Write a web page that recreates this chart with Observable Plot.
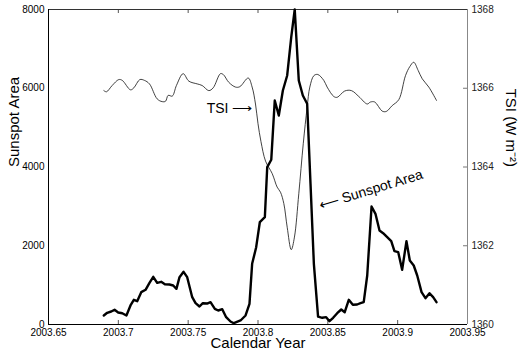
<!DOCTYPE html>
<html>
<head>
<meta charset="utf-8">
<script src="https://cdn.jsdelivr.net/npm/d3@7"></script>
<script src="https://cdn.jsdelivr.net/npm/@observablehq/plot@0.6"></script>
<style>
  html, body { margin: 0; padding: 0; background: #fff; }
</style>
</head>
<body>
<div id="chart"></div>
<script>
// ---- data ----
const sunYears = [2003.6896,2003.6920,2003.6949,2003.6973,2003.6999,2003.7028,2003.7058,2003.7087,2003.7111,2003.7135,
  2003.7164,2003.7195,2003.7223,2003.7250,2003.7278,2003.7307,2003.7333,2003.7366,2003.7393,2003.7416,
  2003.7438,2003.7467,2003.7493,2003.7529,2003.7553,2003.7581,2003.7605,2003.7636,2003.7660,2003.7691,
  2003.7715,2003.7744,2003.7772,2003.7803,2003.7827,2003.7875,2003.7911,2003.7939,2003.7958,2003.7987,
  2003.8013,2003.8049,2003.8066,2003.8095,2003.8120,2003.8149,2003.8178,2003.8209,2003.8238,2003.8263,
  2003.8292,2003.8321,2003.8352,2003.8376,2003.8400,2003.8430,2003.8460,2003.8488,2003.8512,2003.8538,
  2003.8567,2003.8596,2003.8621,2003.8650,2003.8679,2003.8710,2003.8734,2003.8757,2003.8782,2003.8813,
  2003.8841,2003.8870,2003.8896,2003.8925,2003.8954,2003.8977,2003.9004,2003.9032,2003.9063,2003.9087,
  2003.9115,2003.9140,2003.9171,2003.9199,2003.9228,2003.9254,2003.9278];
const sunArea = [229,297,330,373,305,287,229,483,627,592,
  821,881,1059,1211,1059,1084,1024,1016,990,906,
  1202,1338,1202,694,541,457,541,533,566,398,
  356,389,186,76,33,102,229,525,1541,1964,
  2598,2725,3995,4183,5689,5308,5943,6324,7297,8000,
  6197,5816,5605,3573,1541,200,170,186,85,170,
  287,381,313,627,500,508,541,567,1244,2997,
  2811,2387,2319,2218,2116,1862,1837,1388,2116,1625,
  1498,1244,821,668,795,694,567];

const tsiYears = [2003.6896,2003.6915,2003.6956,2003.7003,2003.7028,2003.7087,2003.7111,2003.7154,2003.7187,2003.7223,
  2003.7278,2003.7314,2003.7338,2003.7357,2003.7386,2003.7416,2003.7464,2003.7505,2003.7565,2003.7600,
  2003.7648,2003.7679,2003.7731,2003.7751,2003.7791,2003.7839,2003.7870,2003.7930,2003.7958,2003.7982,
  2003.8000,2003.8021,2003.8054,2003.8102,2003.8137,2003.8161,2003.8185,2003.8209,2003.8238,2003.8261,
  2003.8292,2003.8324,2003.8352,2003.8371,2003.8400,2003.8428,2003.8471,2003.8495,2003.8543,2003.8567,
  2003.8621,2003.8669,2003.8722,2003.8782,2003.8805,2003.8836,2003.8889,2003.8918,2003.8961,2003.9008,
  2003.9056,2003.9087,2003.9115,2003.9147,2003.9176,2003.9223,2003.9278];
const tsiValues = [1365.94,1365.91,1366.07,1366.22,1366.20,1365.96,1366.01,1366.22,1366.20,1366.11,
  1365.73,1365.66,1365.67,1365.82,1365.80,1366.07,1366.37,1366.18,1366.11,1366.07,
  1365.94,1366.01,1366.37,1366.35,1366.15,1366.03,1366.04,1366.26,1366.03,1365.60,
  1365.10,1364.65,1364.15,1363.83,1363.49,1363.36,1363.07,1362.47,1361.90,1362.22,
  1363.32,1364.59,1365.52,1366.03,1366.32,1366.35,1366.20,1366.03,1365.79,1365.77,
  1365.93,1365.94,1365.79,1365.60,1365.65,1365.65,1365.42,1365.41,1365.56,1365.71,
  1366.32,1366.55,1366.66,1366.45,1366.24,1366.03,1365.69];

const xDomain = [2003.65, 2003.95];
const xTicks = [2003.65, 2003.7, 2003.75, 2003.8, 2003.85, 2003.9, 2003.95];
const areaDomain = [0, 8000];
const areaTicks = [0, 2000, 4000, 6000, 8000];
const tsiDomain = [1360, 1368];
const tsiTicks = [1360, 1362, 1364, 1366, 1368];

const annotations = [
  {x: 2003.7796, y: 5486, text: "TSI \u27F6", rotate: 0},
  {x: 2003.8808, y: 3420, text: "\u27F5 Sunspot Area", rotate: -17}
];

// ---- build ----
const toArea = v => areaDomain[0] + (v - tsiDomain[0]) / (tsiDomain[1] - tsiDomain[0]) * (areaDomain[1] - areaDomain[0]);
const sunspot = sunYears.map((x, i) => ({x, y: sunArea[i]}));
const tsi = tsiYears.map((x, i) => ({x, y: toArea(tsiValues[i])}));

const W = 530, H = 357, mL = 48, mR = 63, mT = 9, mB = 33;
const innerW = W - mL - mR, innerH = H - mT - mB;
const inner = xTicks.slice(1, -1);
const innerY = areaTicks.slice(1, -1);

const chart = Plot.plot({
  width: W, height: H,
  marginLeft: mL, marginRight: mR, marginTop: mT, marginBottom: mB,
  style: {fontFamily: "'Liberation Sans', Arial, Helvetica, sans-serif", fontSize: "10px", background: "#fff", color: "#000"},
  x: {domain: xDomain},
  y: {domain: areaDomain},
  marks: [
    // tick labels
    Plot.axisX(xTicks, {anchor: "bottom", tickSize: 0, tickPadding: 4, label: null, tickFormat: d => String(+d.toFixed(2))}),
    Plot.axisY(areaTicks, {anchor: "left", tickSize: 0, tickPadding: 4, label: null, tickFormat: d => String(d)}),
    Plot.axisY(areaTicks, {anchor: "right", tickSize: 0, tickPadding: 4, label: null,
      tickFormat: d => String(tsiTicks[areaTicks.indexOf(d)]), fill: "#222"}),
    // inward tick marks
    Plot.tickX(inner, {x: d => d, insetTop: innerH - 4, stroke: "#555"}),
    Plot.tickX(inner, {x: d => d, insetBottom: innerH - 4, stroke: "#555"}),
    Plot.tickY(innerY, {y: d => d, insetLeft: innerW - 4, stroke: "#777"}),
    // box
    Plot.ruleY([areaDomain[1]], {stroke: "#333"}),
    Plot.ruleX([xDomain[1]], {stroke: "#888"}),
    Plot.ruleX([xDomain[0]], {stroke: "#000"}),
    Plot.ruleY([areaDomain[0]], {stroke: "#000"}),
    // data
    Plot.line(tsi, {x: "x", y: "y", stroke: "#111", strokeWidth: 0.8, curve: "catmull-rom"}),
    Plot.line(sunspot, {x: "x", y: "y", stroke: "#000", strokeWidth: 2.4, strokeLinejoin: "round"}),
    // annotations
    Plot.text(annotations, {x: "x", y: "y", text: "text", rotate: "rotate", fontSize: 14, fill: "#000"}),
    // axis titles
    Plot.text(["Sunspot Area"], {frameAnchor: "left", rotate: -90, dx: -34, fontSize: 15, fill: "#000"}),
    Plot.text(["TSI (W m\u207B\u00B2)"], {frameAnchor: "right", rotate: 90, dx: 43, fontSize: 15, fill: "#000"}),
    Plot.text(["Calendar Year"], {frameAnchor: "bottom", dy: 23, fontSize: 15, fill: "#000"})
  ]
});
document.getElementById("chart").appendChild(chart);
</script>
</body>
</html>
